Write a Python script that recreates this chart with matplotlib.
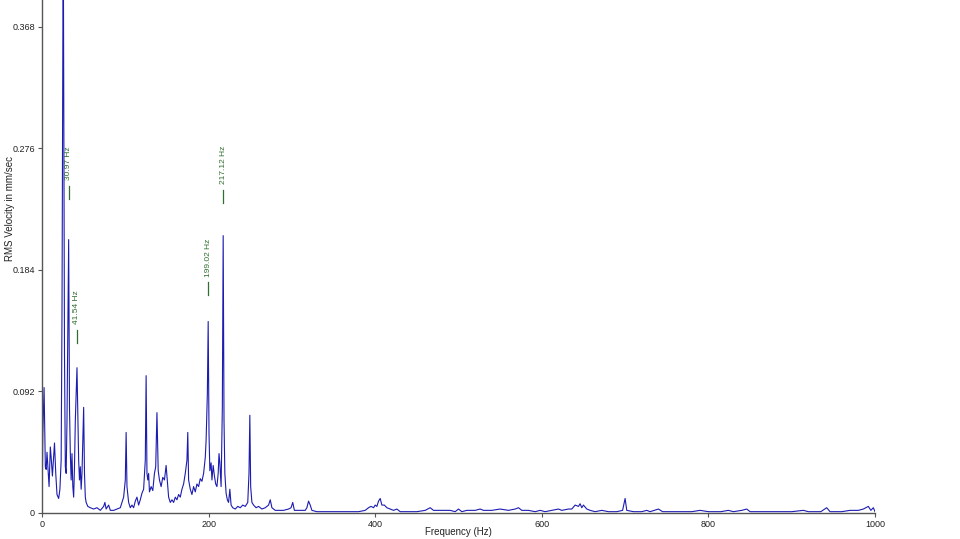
import numpy as np
import matplotlib
matplotlib.use("Agg")
import matplotlib.pyplot as plt

# Spectrum (Hz, mm/sec RMS)
freq = [0, 1, 2.5, 4, 5, 6, 7.5, 8.5, 10, 11, 12.5, 15, 16.5, 18, 20, 21.5, 23, 24, 25.5, 27,
        28, 29, 30, 32, 33, 34, 35, 36, 37, 38, 39, 40, 42, 43, 44, 45, 46, 47, 48, 50,
        51, 52, 53, 55, 58, 62, 66, 70, 74, 75.5, 77, 80, 82, 86, 90, 94, 96, 98, 100, 101,
        102, 104, 106, 108, 110, 112, 114, 116, 118, 120, 122, 124, 125, 126, 127, 128, 129, 131, 133, 135,
        136.5, 138, 139.5, 141, 143, 145, 147, 149, 150, 152, 154, 156, 158, 160, 162, 164, 166, 168, 170, 172,
        174, 175, 176, 178, 180, 182, 184, 186, 188, 190, 192, 194, 196, 197, 198.5, 199.5, 200.5, 201.5, 203, 204,
        205.5, 207, 208.5, 210, 211.5, 212.5, 213.5, 215, 216.5, 217.5, 218.5, 219.5, 221, 222.5, 224, 225.5, 227, 229, 232, 235,
        238, 241, 244, 247, 248.5, 249.5, 250.5, 252, 254, 257, 260, 264, 268, 272, 274, 276, 280, 285, 290, 296,
        299, 301, 303, 310, 316, 318, 320, 322, 324, 330, 340, 350, 360, 370, 380, 388, 392, 395, 398, 400,
        402, 404, 406, 408, 411, 414, 418, 422, 426, 430, 440, 450, 460, 466, 470, 480, 490, 496, 500, 504,
        510, 520, 526, 530, 540, 550, 560, 568, 572, 576, 584, 592, 598, 604, 612, 620, 624, 632, 636, 640,
        644, 646, 648, 650, 654, 658, 664, 672, 680, 690, 697, 700, 702, 710, 720, 726, 730, 740, 745, 760,
        770, 780, 790, 800, 815, 824, 830, 840, 846, 850, 860, 870, 880, 892, 900, 914, 920, 935, 942, 946,
        960, 970, 980, 986, 992, 995, 998, 1000]
rms = [0.0, 0.06, 0.095, 0.035, 0.033, 0.046, 0.030, 0.020, 0.050, 0.042, 0.028, 0.053, 0.030, 0.014, 0.011, 0.018, 0.040, 0.15, 0.45, 0.12,
       0.035, 0.03, 0.07, 0.207, 0.08, 0.045, 0.025, 0.045, 0.02, 0.012, 0.035, 0.07, 0.110, 0.075, 0.04, 0.025, 0.035, 0.018, 0.03, 0.080,
       0.03, 0.012, 0.008, 0.005, 0.004, 0.003, 0.004, 0.002, 0.005, 0.008, 0.003, 0.006, 0.002, 0.002, 0.003, 0.004, 0.008, 0.012, 0.025, 0.061,
       0.02, 0.008, 0.004, 0.006, 0.004, 0.009, 0.012, 0.006, 0.01, 0.015, 0.018, 0.04, 0.104, 0.03, 0.025, 0.03, 0.016, 0.02, 0.017, 0.03,
       0.035, 0.076, 0.032, 0.025, 0.02, 0.027, 0.025, 0.036, 0.028, 0.012, 0.008, 0.010, 0.008, 0.012, 0.010, 0.014, 0.012, 0.018, 0.022, 0.030,
       0.040, 0.061, 0.025, 0.018, 0.014, 0.02, 0.016, 0.022, 0.02, 0.026, 0.024, 0.03, 0.042, 0.055, 0.090, 0.145, 0.060, 0.032, 0.038, 0.025,
       0.036, 0.028, 0.022, 0.020, 0.030, 0.045, 0.038, 0.020, 0.080, 0.210, 0.070, 0.030, 0.015, 0.010, 0.008, 0.018, 0.006, 0.004, 0.003, 0.005,
       0.004, 0.006, 0.005, 0.008, 0.030, 0.074, 0.020, 0.008, 0.006, 0.004, 0.005, 0.003, 0.004, 0.006, 0.010, 0.004, 0.002, 0.002, 0.002, 0.003,
       0.004, 0.008, 0.002, 0.002, 0.002, 0.004, 0.009, 0.006, 0.002, 0.001, 0.001, 0.001, 0.001, 0.001, 0.001, 0.002, 0.004, 0.005, 0.004, 0.006,
       0.005, 0.009, 0.011, 0.006, 0.006, 0.004, 0.003, 0.002, 0.003, 0.001, 0.001, 0.001, 0.002, 0.004, 0.002, 0.002, 0.002, 0.001, 0.003, 0.001,
       0.002, 0.002, 0.003, 0.002, 0.002, 0.003, 0.002, 0.003, 0.004, 0.002, 0.002, 0.001, 0.002, 0.001, 0.002, 0.003, 0.002, 0.003, 0.003, 0.006,
       0.005, 0.007, 0.004, 0.006, 0.003, 0.002, 0.001, 0.002, 0.001, 0.001, 0.002, 0.011, 0.002, 0.001, 0.001, 0.002, 0.001, 0.003, 0.001, 0.001,
       0.001, 0.001, 0.002, 0.001, 0.001, 0.002, 0.001, 0.002, 0.003, 0.001, 0.001, 0.001, 0.001, 0.001, 0.001, 0.002, 0.001, 0.001, 0.004, 0.001,
       0.001, 0.002, 0.002, 0.003, 0.005, 0.002, 0.004, 0.001]

# Peak markers
peak_freq = [32.4, 42.0, 199.5, 217.5]
peak_labels = ["30.97 Hz", "41.54 Hz", "199.02 Hz", "217.12 Hz"]
marker_level = [0.238, 0.129, 0.165, 0.235]

yticks = [0, 0.092, 0.184, 0.276, 0.368]
ytick_labels = ["0", "0.092", "0.184", "0.276", "0.368"]
xticks = [0, 200, 400, 600, 800, 1000]

plt.rcParams['font.family'] = ['Liberation Sans', 'DejaVu Sans']

fig = plt.figure(figsize=(9.6, 5.39), dpi=100)
ax = fig.add_axes([42 / 960, 26 / 539, 833 / 960, 513 / 539])

ax.plot(freq, rms, color='#1c1cb0', lw=0.8)

mark_len = 0.0098
for f, lab, lv in zip(peak_freq, peak_labels, marker_level):
    ax.plot([f, f], [lv, lv + mark_len], color='#2f6f2f', lw=0.9)
    ax.text(f, lv + mark_len + 0.004, lab, rotation=90, ha='center', va='bottom',
            fontsize=6, color='#2f6f2f')

ax.set_xlim(0, 1000)
ax.set_ylim(0, 0.3884)
ax.set_xticks(xticks)
ax.set_yticks(yticks)
ax.set_yticklabels(ytick_labels)
ax.tick_params(labelsize=6.5, length=3, width=0.8, color='#555555', labelcolor='#222222', pad=2)
for side in ['top', 'right']:
    ax.spines[side].set_visible(False)
for side in ['left', 'bottom']:
    ax.spines[side].set_color('#555555')
    ax.spines[side].set_linewidth(1.0)

fig.text(458 / 960, 1 - 532 / 539, "Frequency (Hz)", ha='center', va='center',
         fontsize=7, color='#222222')
fig.text(10 / 960, 1 - 208 / 539, "RMS Velocity in mm/sec", rotation=90,
         ha='center', va='center', fontsize=7, color='#222222')

fig.savefig("out.png", dpi=100)
